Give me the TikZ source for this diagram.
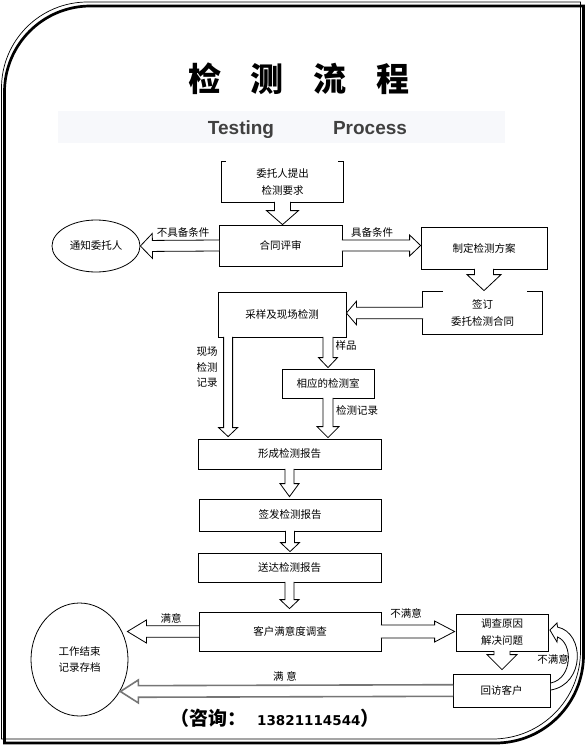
\documentclass[tikz,border=0pt]{standalone}
\usepackage{fontspec}
\setmainfont{Liberation Sans}
\newfontfamily\cjk{Noto Sans CJK SC}
\newfontfamily\dvs{DejaVu Sans}
\usetikzlibrary{calc,shapes.geometric}
\definecolor{band}{RGB}{247,248,251}
\definecolor{subt}{RGB}{64,64,64}
\definecolor{garr}{RGB}{118,118,118}
\newcommand\blockarrow[6][]{%
  \coordinate (bA) at (#2);
  \coordinate (bB) at (#3);
  \coordinate (bT) at ($(bA)!-0.6pt!(bB)$);
  \coordinate (bH) at ($(bB)!#6!(bA)$);
  \coordinate (ba1) at ($(bT)!#4!90:(bB)$);
  \coordinate (ba2) at ($(bT)!#4!-90:(bB)$);
  \coordinate (bh1) at ($(bH)!#4!90:(bB)$);
  \coordinate (bh2) at ($(bH)!#4!-90:(bB)$);
  \coordinate (bw1) at ($(bH)!#5!90:(bB)$);
  \coordinate (bw2) at ($(bH)!#5!-90:(bB)$);
  \fill[white] (ba1) -- (bh1) -- (bw1) -- (bB) -- (bw2) -- (bh2) -- (ba2) -- cycle;
  \draw[line width=0.8pt,line join=miter,#1] (ba1) -- (bh1) -- (bw1) -- (bB) -- (bw2) -- (bh2) -- (ba2);
}
\begin{document}
\begin{tikzpicture}[x=1pt,y=-1pt,
  box/.style={draw, line width=0.8pt, inner sep=0pt, align=center, font=\cjk\fontsize{10.5}{17}\selectfont},
  lbl/.style={inner sep=0pt, align=center, font=\cjk\fontsize{10.5}{15.5}\selectfont},
  oval/.style={ellipse, draw, line width=0.8pt, inner sep=0pt, align=center, font=\cjk\fontsize{10.5}{15.5}\selectfont}]
\useasboundingbox (0,0) rectangle (586,747);
% frame
\draw[line width=2.7pt] (4.5,743) -- (4.5,92) arc[start angle=180,end angle=270,radius=86] -- (583.5,6) -- (583.5,655) arc[start angle=0,end angle=90,radius=88] -- cycle;
\draw[line width=0.7pt,shift={(-3,-4)}] (4.5,743) -- (4.5,92) arc[start angle=180,end angle=270,radius=86] -- (583.5,6) -- (583.5,655) arc[start angle=0,end angle=90,radius=88] -- cycle;
% title
\fill[band] (58,111) rectangle (505,143);
\node[inner sep=0pt, font=\cjk\bfseries\fontsize{33}{33}\selectfont] (title) at (299,79) {检\hspace{30pt}测\hspace{30pt}流\hspace{30pt}程};
\node[inner sep=0pt, anchor=base, text=subt, font=\bfseries\fontsize{19}{19}\selectfont] (testing) at (241,134.5) {Testing};
\node[inner sep=0pt, anchor=base, text=subt, font=\bfseries\fontsize{19}{19}\selectfont] (process) at (370,134.5) {Process};
% boxes
\node[box, draw=none, minimum width=121pt, minimum height=40pt] (req) at (282.5,182) {委托人提出\\检测要求};
\draw[line width=0.8pt] ($(req.north west)+(4,0)$) -- (req.north west) -- (req.south west) -- (req.south east) -- (req.north east) -- ++(-5,0);
\node[box, minimum width=123pt, minimum height=41pt] (rev) at (280.5,245.5) {合同评审};
\node[oval, minimum width=88pt, minimum height=52pt] (notify) at (96,246) {通知委托人};
\node[box, minimum width=126pt, minimum height=42pt] (plan) at (484,248) {制定检测方案};
\node[box, draw=none, minimum width=119pt, minimum height=42pt] (sign) at (482.5,313) {签订\\委托检测合同};
\draw[line width=0.8pt] ($(sign.north west)+(20,0)$) -- (sign.north west) -- (sign.south west) -- (sign.south east) -- (sign.north east) -- ++(-15,0);
\node[box, minimum width=128pt, minimum height=45pt] (samp) at (282,314.5) {采样及现场检测};
\node[box, minimum width=92pt, minimum height=29pt] (lab) at (328,383.5) {相应的检测室};
\node[box, minimum width=183pt, minimum height=30pt] (form) at (289.5,454) {形成检测报告};
\node[box, minimum width=182pt, minimum height=32pt] (issue) at (290,515) {签发检测报告};
\node[box, minimum width=183pt, minimum height=29pt] (deliver) at (289.5,567.5) {送达检测报告};
\node[box, minimum width=182pt, minimum height=39pt] (survey) at (290,631.5) {客户满意度调查};
\node[box, minimum width=92pt, minimum height=37pt] (cause) at (502,632.5) {调查原因\\解决问题};
\node[box, minimum width=97pt, minimum height=33pt] (revisit) at (501.5,690.5) {回访客户};
\node[oval, minimum width=97pt, minimum height=113pt] (end) at (79.5,659.5) {工作结束\\记录存档};
% block arrows
\blockarrow{req.south}{req.south |- rev.north}{8pt}{16pt}{14pt}
\blockarrow{rev.west}{notify.east}{5.5pt}{12.5pt}{12pt}
\blockarrow{rev.east}{rev.east -| plan.west}{5.5pt}{10.5pt}{11pt}
\blockarrow{plan.south}{$(plan.south |- sign.north)+(0,-1)$}{9.5pt}{17pt}{16pt}
\blockarrow{sign.west}{sign.west -| samp.east}{5.8pt}{11.7pt}{10pt}
\blockarrow{$(samp.south west)+(10.5,0)$}{$(samp.south west |- form.north)+(10.5,-2)$}{4.5pt}{9.5pt}{9pt}
\blockarrow{lab.north |- samp.south}{$(lab.north)+(0,-1)$}{5pt}{9.5pt}{10pt}
\blockarrow{lab.south}{$(lab.south |- form.north)+(0,-1)$}{5pt}{11pt}{11pt}
\blockarrow{form.south}{$(form.south |- issue.north)+(0,-2)$}{4.5pt}{9.5pt}{13pt}
\blockarrow{issue.south}{$(issue.south |- deliver.north)+(0,-1)$}{4.5pt}{9.5pt}{9pt}
\blockarrow{deliver.south}{$(deliver.south |- survey.north)+(0,-3)$}{4.5pt}{9.5pt}{9pt}
\blockarrow{survey.west}{$(survey.west -| end.east)+(-1,0)$}{5.8pt}{11.5pt}{19pt}
\blockarrow{survey.east}{$(survey.east -| cause.west)+(-1,0)$}{6.5pt}{10.5pt}{20pt}
\blockarrow{cause.south}{$(cause.south |- revisit.north)+(0,-4)$}{8pt}{15pt}{15pt}
\blockarrow[draw=garr,line width=1.6pt]{revisit.west}{$(revisit.west -| end.east)+(-8,1)$}{5.8pt}{11.5pt}{18pt}
% curved arrow back
\coordinate (cT1) at ($(revisit.east)+(0.5,-7.5)$);
\coordinate (cT2) at ($(revisit.east)+(0.5,-0.5)$);
\coordinate (cP) at ($(cause.east)+(1.5,-2.5)$);
\fill[white] (cT1) .. controls (573,678) and (573,643) .. (557.5,637) -- (557,642) -- (cP) -- (557,623) -- (557.5,627) .. controls (585,633) and (585,684) .. (cT2) -- cycle;
\draw[line width=0.8pt] (cT1) .. controls (573,678) and (573,643) .. (557.5,637) -- (557,642) -- (cP) -- (557,623) -- (557.5,627) .. controls (585,633) and (585,684) .. (cT2);
% labels
\node[lbl] (l1) at (183,232.5) {不具备条件};
\node[lbl] (l2) at (372,232) {具备条件};
\node[lbl] (l3) at (207,367.5) {现场\\检测\\记录};
\node[lbl] (l4) at (346,345) {样品};
\node[lbl] (l5) at (357,410) {检测记录};
\node[lbl] (l6) at (171,618) {满意};
\node[lbl] (l7) at (406,613) {不满意};
\node[lbl] (l8) at (553,659) {不满意};
\node[lbl] (l9) at (285,676) {满\hspace{3pt}意};
% contact
\node[anchor=west, inner sep=0pt] (contact) at (170,718) {{\cjk\bfseries\fontsize{19}{20}\selectfont （咨询：}\hspace{11pt}{\dvs\bfseries\fontsize{13.5}{14}\selectfont 13821114544}{\cjk\bfseries\fontsize{19}{20}\selectfont ）}};
\end{tikzpicture}
\end{document}
